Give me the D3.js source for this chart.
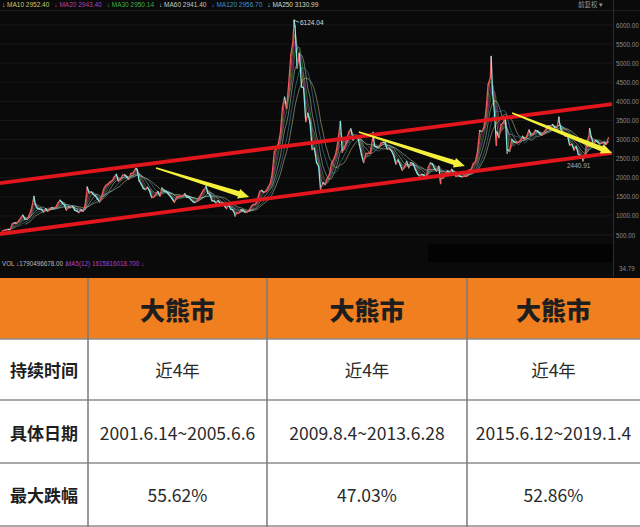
<!DOCTYPE html>
<html><head><meta charset="utf-8">
<script src="https://cdn.jsdelivr.net/npm/d3@7"></script>
<style>
html,body{margin:0;padding:0;background:#fff;}
svg{display:block;}
</style></head><body>
<svg id="c" width="640" height="527"></svg>
<script>
// ---------- DATA ----------
const startYear = 1996;
// Month-end closes of the index, Jan 1996 .. Dec 2019
const closes = [
  600, 620, 640, 650, 640, 800, 820, 810, 870, 950, 1020, 917,
  914, 1006, 1150, 1390, 1300, 1200, 1180, 1170, 1100, 1190, 1120, 1194,
  1220, 1200, 1240, 1340, 1410, 1340, 1290, 1150, 1240, 1220, 1250, 1147,
  1130, 1090, 1160, 1120, 1280, 1690, 1600, 1630, 1560, 1520, 1440, 1367,
  1535, 1714, 1800, 1836, 1895, 1928, 2020, 2090, 1910, 1960, 2070, 2073,
  2020, 1960, 2110, 2120, 2210, 2220, 1920, 1830, 1720, 1690, 1750, 1646,
  1480, 1490, 1570, 1640, 1520, 1730, 1660, 1640, 1580, 1510, 1440, 1357,
  1500, 1510, 1510, 1520, 1580, 1490, 1480, 1420, 1370, 1350, 1400, 1497,
  1590, 1680, 1740, 1600, 1560, 1400, 1390, 1340, 1400, 1320, 1340, 1266,
  1190, 1300, 1180, 1160, 1060, 1080, 1080, 1160, 1150, 1090, 1100, 1161,
  1260, 1300, 1300, 1440, 1640, 1670, 1610, 1650, 1750, 1840, 2100, 2675,
  2786, 2881, 3183, 3841, 4109, 3820, 4471, 5218, 5552, 5955, 4871, 5262,
  4383, 4348, 3473, 3693, 3433, 2736, 2776, 2397, 2293, 1729, 1871, 1821,
  1991, 2082, 2373, 2477, 2633, 2959, 3412, 2667, 2779, 2996, 3195, 3277,
  2989, 3051, 3110, 2870, 2592, 2398, 2638, 2639, 2655, 2979, 2820, 2808,
  2790, 2905, 2928, 2911, 2743, 2762, 2701, 2567, 2359, 2469, 2333, 2199,
  2292, 2428, 2262, 2396, 2372, 2225, 2103, 2047, 2086, 2069, 1980, 2269,
  2385, 2365, 2236, 2177, 2300, 1979, 1993, 2098, 2175, 2141, 2220, 2116,
  2033, 2056, 2033, 2026, 2039, 2048, 2201, 2217, 2364, 2420, 2683, 3235,
  3210, 3310, 3748, 4442, 4612, 4277, 3664, 3206, 3053, 3383, 3445, 3539,
  2738, 2688, 3004, 2938, 2917, 2930, 2979, 3085, 3005, 3100, 3250, 3104,
  3159, 3242, 3223, 3155, 3117, 3192, 3273, 3361, 3349, 3393, 3317, 3307,
  3481, 3259, 3169, 3082, 3095, 2847, 2876, 2725, 2821, 2603, 2588, 2494,
  2585, 2941, 3091, 3078, 2899, 2979, 2933, 2886, 2905, 2929, 2872, 3050
];
// Intra-month peaks and troughs visible on the chart
const extremes = [
  ["1997-05-12", 1510], ["1999-06-30", 1756], ["2001-06-14", 2245],
  ["2004-04-07", 1783], ["2005-06-06", 998],  ["2007-10-16", 6124],
  ["2008-10-28", 1664], ["2009-08-04", 3478], ["2010-11-11", 3186],
  ["2013-06-25", 1849], ["2015-06-12", 5178], ["2015-08-26", 2850],
  ["2016-01-27", 2638], ["2018-01-29", 3587], ["2019-01-04", 2440],
  ["2019-04-08", 3288]
];
const yTicks = [500, 1000, 1500, 2000, 2500, 3000, 3500, 4000, 4500, 5000, 5500, 6000];
const maWindows = [2, 3, 4, 6, 9, 12];
const maColors = ["#d8d870", "#d040d0", "#50c050", "#e0e0e0", "#40b0d0", "#e8e0a0"];
const maLegend = [
  ["MA10", "2952.40", "#c8c870"], ["MA20", "2943.40", "#b040b0"], ["MA30", "2950.14", "#40b040"],
  ["MA60", "2941.40", "#c8c8c8"], ["MA120", "2956.70", "#4090c0"], ["MA250", "3130.99", "#d8d8c0"]
];
const channelUpper = [["1996-01-01", 1860], ["2020-02-20", 3930]];
const channelLower = [["1996-01-01", 526], ["2020-02-20", 2648]];
const trendArrows = [
  [["2002-04-05", 2255], ["2005-12-28", 1495]],
  [["2010-04-22", 3198], ["2014-06-05", 2307]],
  [["2016-04-05", 3695], ["2020-02-20", 2648]]
];
const peakLabel = ["2007-10-16", 6124, "6124.04"];
const lowLabel = ["2019-01-04", 2440, "2440.91"];
const tableHeader = ["大熊市", "大熊市", "大熊市"];
const rowLabels = ["持续时间", "具体日期", "最大跌幅"];
const durations = ["近4年", "近4年", "近4年"];
const periods = ["2001.6.14~2005.6.6", "2009.8.4~2013.6.28", "2015.6.12~2019.1.4"];
const maxDrops = ["55.62%", "47.03%", "52.86%"];

// ---------- DRAW ----------
const svg = d3.select("#c");
const parse = d3.timeParse("%Y-%m-%d");
const monthly = closes.map((v, i) => ({date: new Date(startYear, i + 1, 0), value: v}));
const series = monthly.concat(extremes.map(d => ({date: parse(d[0]), value: d[1]})))
  .sort((a, b) => a.date - b.date);

const x = d3.scaleTime()
  .domain([new Date(1996, 0, 1), parse("2007-10-16"), parse("2020-02-20")])
  .range([0, 294, 612]);
const y = d3.scaleLinear().domain([500, 6000]).range([235, 25]);

// panel background
svg.append("rect").attr("x", 0).attr("y", 0).attr("width", 640).attr("height", 278).attr("fill", "#0a0a0a");
svg.append("rect").attr("x", 428).attr("y", 244).attr("width", 185).attr("height", 18).attr("fill", "#030303");

// grid
svg.append("g").selectAll("line").data(yTicks).join("line")
  .attr("x1", 0).attr("x2", 612).attr("y1", d => y(d)).attr("y2", d => y(d))
  .attr("stroke", "#1c1c1c").attr("stroke-width", 0.8);
svg.append("line").attr("x1", 0).attr("x2", 640).attr("y1", 10.5).attr("y2", 10.5).attr("stroke", "#1c1c1c");
svg.append("line").attr("x1", 613.5).attr("x2", 613.5).attr("y1", 0).attr("y2", 277).attr("stroke", "#2c2c2c");

// y axis
const ax = svg.append("g").attr("transform", "translate(615,0)")
  .call(d3.axisRight(y).tickValues(yTicks).tickFormat(d3.format(".2f")).tickSize(0));
ax.select(".domain").remove();
ax.selectAll("text").attr("fill", "#8a8a8a").attr("font-size", 6.3).attr("font-family", "Liberation Sans, Arial").attr("x", 1);

// moving averages
const lineGen = d3.line().x(d => x(d.date)).y(d => y(d.value)).curve(d3.curveMonotoneX);
maWindows.forEach((w, k) => {
  const ma = [];
  for (let i = w - 1; i < monthly.length; i++) {
    ma.push({date: monthly[i].date, value: d3.mean(monthly.slice(i - w + 1, i + 1), d => d.value)});
  }
  svg.append("path").datum(ma).attr("d", lineGen).attr("fill", "none")
    .attr("stroke", maColors[k]).attr("stroke-width", 0.8).attr("opacity", 0.6);
});

// price segments
const segs = d3.pairs(series);
svg.append("g").selectAll("line").data(segs).join("line")
  .attr("x1", d => x(d[0].date)).attr("y1", d => y(d[0].value))
  .attr("x2", d => x(d[1].date)).attr("y2", d => y(d[1].value))
  .attr("stroke", d => d[1].value >= d[0].value ? "#f05a5a" : "#8ae8e4")
  .attr("stroke-width", 1.3).attr("stroke-linecap", "round");

// channel lines
const chLine = d3.line().x(d => x(parse(d[0]))).y(d => y(d[1]));
[channelUpper, channelLower].forEach(c => {
  svg.append("path").attr("d", chLine(c)).attr("stroke", "#e2161c").attr("stroke-width", 3.8).attr("fill", "none");
});

// yellow arrows
trendArrows.forEach(a => {
  const x0 = x(parse(a[0][0])), y0 = y(a[0][1]), x1 = x(parse(a[1][0])), y1 = y(a[1][1]);
  const L = Math.hypot(x1 - x0, y1 - y0), ux = (x1 - x0) / L, uy = (y1 - y0) / L, nx = -uy, ny = ux;
  const hl = 11, bx = x1 - ux * hl, by = y1 - uy * hl;
  const pts = [
    [x0 + nx * 0.8, y0 + ny * 0.8], [bx + nx * 2.6, by + ny * 2.6], [bx + nx * 5, by + ny * 5],
    [x1, y1], [bx - nx * 5, by - ny * 5], [bx - nx * 2.6, by - ny * 2.6], [x0 - nx * 0.8, y0 - ny * 0.8]
  ];
  svg.append("polygon").attr("points", pts.map(p => p.join(",")).join(" ")).attr("fill", "#f4f03c");
});

// peak / low labels
{
  const px = x(parse(peakLabel[0])), py = y(peakLabel[1]);
  svg.append("path").attr("d", `M${px},${py}L${px + 5},${py + 2}`).attr("stroke", "#ddd").attr("stroke-width", 0.8);
  svg.append("text").attr("x", px + 6).attr("y", py + 5).text(peakLabel[2])
    .attr("fill", "#ddd").attr("font-size", 6.5).attr("font-family", "Liberation Sans, Arial");
  const lx = x(parse(lowLabel[0])), ly = y(lowLabel[1]);
  svg.append("text").attr("x", lx - 16).attr("y", ly + 7).text(lowLabel[2])
    .attr("fill", "#aaa").attr("font-size", 6.5).attr("font-family", "Liberation Sans, Arial");
}

// MA legend on top
{
  let cx = 2;
  maLegend.forEach(m => {
    const t = svg.append("text").attr("x", cx).attr("y", 6.5).attr("font-size", 6.5)
      .attr("font-family", "Liberation Sans, Arial").attr("fill", m[2]).text(`↓ ${m[0]} ${m[1]}`);
    cx += t.node().getComputedTextLength() + 5;
  });
  svg.append("text").attr("x", 578).attr("y", 6.5).attr("font-size", 6.5).attr("fill", "#9a9a9a")
    .attr("font-family", "Noto Sans CJK SC").text("前复权 ▾");
  svg.append("text").attr("x", 2).attr("y", 266).attr("font-size", 6.3).attr("fill", "#bbb")
    .attr("font-family", "Liberation Sans, Arial").text("VOL ↓1790496678.00 ↓");
  svg.append("text").attr("x", 66).attr("y", 266).attr("font-size", 6.3).attr("fill", "#b040c0")
    .attr("font-family", "Liberation Sans, Arial").text("MA5(12) 1615816018.700 ↓");
  svg.append("text").attr("x", 619).attr("y", 271).attr("font-size", 6.3).attr("fill", "#888")
    .attr("font-family", "Liberation Sans, Arial").text("34.79");
}

// ---------- TABLE ----------
const colX = [0, 88, 267, 467, 640];
const rowY = [278, 339, 400, 463, 526];
const colC = d3.range(4).map(i => (colX[i] + colX[i + 1]) / 2);
svg.append("rect").attr("x", 0).attr("y", rowY[0]).attr("width", 640).attr("height", rowY[1] - rowY[0]).attr("fill", "#f07f1f");
svg.append("rect").attr("x", 0).attr("y", rowY[1]).attr("width", 640).attr("height", 527 - rowY[1]).attr("fill", "#fff");
svg.append("g").selectAll("line").data(rowY.slice(1)).join("line")
  .attr("x1", 0).attr("x2", 640).attr("y1", d => d).attr("y2", d => d)
  .attr("stroke", "#8c8c8c").attr("stroke-width", 1.5);
svg.append("g").selectAll("line").data(colX.slice(1, 4)).join("line")
  .attr("x1", d => d).attr("x2", d => d).attr("y1", rowY[0]).attr("y2", 527)
  .attr("stroke", "#7a7a7a").attr("stroke-width", 1.5);

const font = "'Noto Sans CJK SC', 'Noto Sans', sans-serif";
svg.append("g").selectAll("text").data(tableHeader).join("text")
  .attr("x", (d, i) => colC[i + 1]).attr("y", 309).attr("text-anchor", "middle")
  .attr("dominant-baseline", "central").attr("font-family", font).attr("font-weight", 900)
  .attr("font-size", 25).attr("fill", "#1e1e1e").text(d => d);
const rowCenters = [369, 432, 494];
svg.append("g").selectAll("text").data(rowLabels).join("text")
  .attr("x", colC[0]).attr("y", (d, i) => rowCenters[i]).attr("text-anchor", "middle")
  .attr("dominant-baseline", "central").attr("font-family", font).attr("font-weight", 700)
  .attr("font-size", 17).attr("fill", "#1e1e1e").text(d => d);
[durations, periods, maxDrops].forEach((row, r) => {
  svg.append("g").selectAll("text").data(row).join("text")
    .attr("x", (d, i) => colC[i + 1]).attr("y", rowCenters[r]).attr("text-anchor", "middle")
    .attr("dominant-baseline", "central").attr("font-family", font)
    .attr("font-size", 17.5).attr("fill", "#2a2a2a").text(d => d);
});
</script>
</body></html>
